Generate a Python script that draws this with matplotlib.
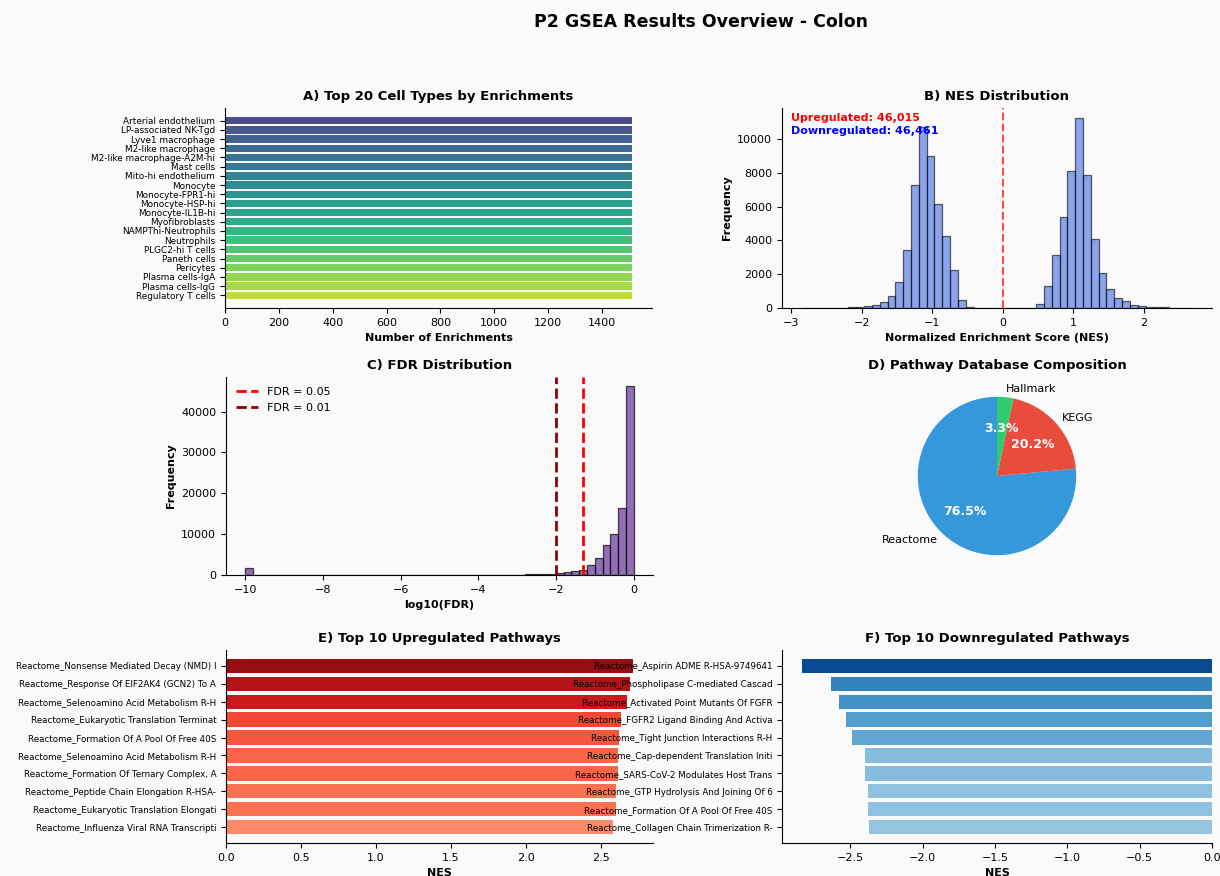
import numpy as np
import matplotlib
matplotlib.use("Agg")
import matplotlib.pyplot as plt

# ---- data ----
cell_types = [
    "Arterial endothelium", "LP-associated NK-Tgd", "Lyve1 macrophage",
    "M2-like macrophage", "M2-like macrophage-A2M-hi", "Mast cells",
    "Mito-hi endothelium", "Monocyte", "Monocyte-FPR1-hi", "Monocyte-HSP-hi",
    "Monocyte-IL1B-hi", "Myofibroblasts", "NAMPThi-Neutrophils", "Neutrophils",
    "PLGC2-hi T cells", "Paneth cells", "Pericytes", "Plasma cells-IgA",
    "Plasma cells-IgG", "Regulatory T cells",
]
cell_counts = [1510] * 20

# NES histogram (50 bins)
nes_edges = np.linspace(-2.855, 2.695, 51)
nes_counts = [
    2, 4, 6, 10, 15, 25, 40, 60, 100, 160,
    380, 720, 1530, 3430, 7300, 10720, 9000, 6170, 4250, 2275,
    480, 70, 0, 0, 0, 0, 0, 0, 0, 0,
    215, 1290, 3110, 5410, 8140, 11280, 7860, 4090, 2070, 1140,
    620, 400, 200, 100, 80, 60, 40, 25, 12, 6,
]
n_up = 46015
n_down = 46461

# log10(FDR) histogram (50 bins)
fdr_edges = np.linspace(-10, 0, 51)
fdr_counts = [
    1600, 0, 0, 0, 0, 0, 0, 0, 0, 0,
    0, 0, 0, 0, 0, 0, 0, 0, 0, 0,
    0, 2, 3, 3, 4, 5, 6, 8, 10, 14,
    20, 40, 50, 70, 90, 110, 140, 180, 240, 320,
    540, 690, 930, 1340, 2490, 4280, 7290, 10070, 16330, 46150,
]

db_labels = ["Reactome", "KEGG", "Hallmark"]
db_counts = [70740, 18680, 3056]
db_colors = ["#3498db", "#e74c3c", "#2ecc71"]

up_names = [
    "Reactome_Nonsense Mediated Decay (NMD) I",
    "Reactome_Response Of EIF2AK4 (GCN2) To A",
    "Reactome_Selenoamino Acid Metabolism R-H",
    "Reactome_Eukaryotic Translation Terminat",
    "Reactome_Formation Of A Pool Of Free 40S",
    "Reactome_Selenoamino Acid Metabolism R-H",
    "Reactome_Formation Of Ternary Complex, A",
    "Reactome_Peptide Chain Elongation R-HSA-",
    "Reactome_Eukaryotic Translation Elongati",
    "Reactome_Influenza Viral RNA Transcripti",
]
up_nes = [2.71, 2.69, 2.67, 2.63, 2.62, 2.61, 2.61, 2.60, 2.60, 2.58]

down_names = [
    "Reactome_Aspirin ADME R-HSA-9749641",
    "Reactome_Phospholipase C-mediated Cascad",
    "Reactome_Activated Point Mutants Of FGFR",
    "Reactome_FGFR2 Ligand Binding And Activa",
    "Reactome_Tight Junction Interactions R-H",
    "Reactome_Cap-dependent Translation Initi",
    "Reactome_SARS-CoV-2 Modulates Host Trans",
    "Reactome_GTP Hydrolysis And Joining Of 6",
    "Reactome_Formation Of A Pool Of Free 40S",
    "Reactome_Collagen Chain Trimerization R-",
]
down_nes = [-2.83, -2.63, -2.58, -2.53, -2.49, -2.40, -2.40, -2.38, -2.38, -2.37]

# ---- figure ----
BG = "#fafafa"
W, H = 1220, 876
fig = plt.figure(figsize=(W / 100, H / 100), dpi=100, facecolor=BG)


def px_axes(x0, y0, x1, y1):
    return fig.add_axes([x0 / W, 1 - y1 / H, (x1 - x0) / W, (y1 - y0) / H], facecolor=BG)


def clean(ax):
    ax.spines["top"].set_visible(False)
    ax.spines["right"].set_visible(False)
    ax.tick_params(labelsize=8)


TS = 9.5   # panel titles
LS = 8     # axis labels

fig.suptitle("P2 GSEA Results Overview - Colon", fontsize=12.5, fontweight="bold",
             x=0.575, y=0.985)

# A) cell types
ax = px_axes(225, 108, 652, 308)
clean(ax)
ypos = np.arange(len(cell_types))
ax.barh(ypos, cell_counts, color=plt.cm.viridis(np.linspace(0.2, 0.9, len(cell_types))),
        alpha=0.95)
ax.set_yticks(ypos)
ax.set_yticklabels(cell_types, fontsize=6.4)
ax.invert_yaxis()
ax.set_xlabel("Number of Enrichments", fontsize=LS, fontweight="bold")
ax.set_title("A) Top 20 Cell Types by Enrichments", fontsize=TS, fontweight="bold")

# B) NES distribution
ax = px_axes(782, 108, 1212, 308)
clean(ax)
nes_mid = (nes_edges[:-1] + nes_edges[1:]) / 2
ax.hist(nes_mid, bins=nes_edges, weights=nes_counts, color="royalblue", alpha=0.6,
        edgecolor="black", linewidth=0.9)
ax.axvline(0, color="red", linestyle="--", linewidth=1.5, alpha=0.7)
ax.text(0.02, 0.975, f"Upregulated: {n_up:,}", transform=ax.transAxes, color="red",
        fontweight="bold", fontsize=8, va="top")
ax.text(0.02, 0.91, f"Downregulated: {n_down:,}", transform=ax.transAxes, color="blue",
        fontweight="bold", fontsize=8, va="top")
ax.set_xlabel("Normalized Enrichment Score (NES)", fontsize=LS, fontweight="bold")
ax.set_ylabel("Frequency", fontsize=LS, fontweight="bold")
ax.set_title("B) NES Distribution", fontsize=TS, fontweight="bold")

# C) FDR distribution
ax = px_axes(226, 377, 653, 575)
clean(ax)
fdr_mid = (fdr_edges[:-1] + fdr_edges[1:]) / 2
ax.hist(fdr_mid, bins=fdr_edges, weights=fdr_counts, color="rebeccapurple", alpha=0.7,
        edgecolor="black", linewidth=0.9)
ax.axvline(np.log10(0.05), color="red", linestyle="--", linewidth=2, label="FDR = 0.05")
ax.axvline(np.log10(0.01), color="darkred", linestyle="--", linewidth=2, label="FDR = 0.01")
ax.legend(loc="upper left", frameon=False, fontsize=8)
ax.set_xlabel("log10(FDR)", fontsize=LS, fontweight="bold")
ax.set_ylabel("Frequency", fontsize=LS, fontweight="bold")
ax.set_title("C) FDR Distribution", fontsize=TS, fontweight="bold")

# D) database composition
ax = px_axes(782, 377, 1212, 575)
wedges, texts, autotexts = ax.pie(db_counts, labels=db_labels, colors=db_colors,
                                  autopct="%1.1f%%", startangle=90,
                                  textprops={"fontsize": 8})
for t in autotexts:
    t.set_color("white")
    t.set_fontweight("bold")
    t.set_fontsize(9)
ax.set_title("D) Pathway Database Composition", fontsize=TS, fontweight="bold")

# E) top upregulated
ax = px_axes(226, 650, 653, 843)
clean(ax)
yy = np.arange(len(up_names))
un = np.array(up_nes)
ax.barh(yy, un, color=plt.cm.Reds(0.4 + 0.5 * (un - un.min()) / (un.max() - un.min())))
ax.set_yticks(yy)
ax.set_yticklabels(up_names, fontsize=6.3)
ax.invert_yaxis()
ax.set_xlabel("NES", fontsize=LS, fontweight="bold")
ax.set_title("E) Top 10 Upregulated Pathways", fontsize=TS, fontweight="bold")

# F) top downregulated
ax = px_axes(782, 650, 1212, 843)
clean(ax)
yy = np.arange(len(down_names))
dn = np.abs(np.array(down_nes))
ax.barh(yy, down_nes, color=plt.cm.Blues(0.4 + 0.5 * (dn - dn.min()) / (dn.max() - dn.min())))
ax.set_yticks(yy)
ax.set_yticklabels(down_names, fontsize=6.3)
ax.invert_yaxis()
ax.set_xlabel("NES", fontsize=LS, fontweight="bold")
ax.set_title("F) Top 10 Downregulated Pathways", fontsize=TS, fontweight="bold")

fig.savefig("out.png", dpi=100, facecolor=BG)
